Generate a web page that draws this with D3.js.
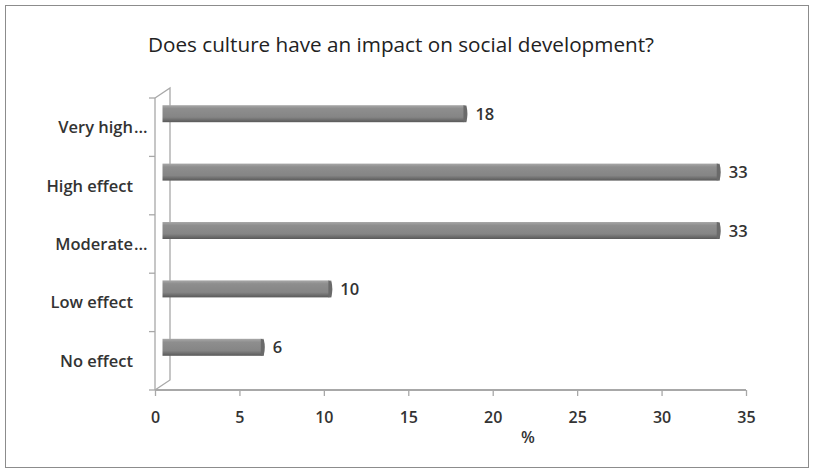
<!DOCTYPE html>
<html>
<head>
<meta charset="utf-8">
<script src="https://cdn.jsdelivr.net/npm/d3@7"></script>
<style>
  body { margin: 0; background: #fff; }
  svg { display: block; }
  text { font-family: 'Open Sans', 'DejaVu Sans', sans-serif; fill: #333; }
</style>
</head>
<body>
<svg width="814" height="473"></svg>
<script>
// chart data
var categories = ['Very high effect', 'High effect', 'Moderate effect', 'Low effect', 'No effect'];
var shortLabels = ['Very high', 'High effect', 'Moderate', 'Low effect', 'No effect'];
var values = [18, 33, 33, 10, 6];
var xTicks = [0, 5, 10, 15, 20, 25, 30, 35];
var titleText = 'Does culture have an impact on social development?';
var xAxisTitle = '%';

var svg = d3.select('svg');
var depthX = 15, depthY = 10;   // 3D wall offset

var x = d3.scaleLinear().domain([0, 35]).range([155, 746]);
var y = d3.scaleBand().domain(categories).range([98, 390]).padding(0);

// outer frame
svg.append('rect')
    .attr('x', 5.5).attr('y', 5.5)
    .attr('width', 803).attr('height', 462)
    .attr('fill', 'none')
    .attr('stroke', '#8c8c8c')
    .attr('stroke-width', 1);

// title
svg.append('text')
    .attr('x', 401).attr('y', 52)
    .attr('text-anchor', 'middle')
    .attr('textLength', 506)
    .attr('lengthAdjust', 'spacingAndGlyphs')
    .style('font-size', '20px')
    .style('fill', '#222')
    .text(titleText);

var defs = svg.append('defs');
var grad = defs.append('linearGradient')
    .attr('id', 'barGrad')
    .attr('x1', 0).attr('y1', 0).attr('x2', 0).attr('y2', 1);
grad.append('stop').attr('offset', '0%').attr('stop-color', '#a8a8a8');
grad.append('stop').attr('offset', '20%').attr('stop-color', '#8e8e8e');
grad.append('stop').attr('offset', '70%').attr('stop-color', '#858585');
grad.append('stop').attr('offset', '100%').attr('stop-color', '#595959');

var axisColor = '#a8a8a8';
var x0 = x(0), yTop = y.range()[0], yBottom = y.range()[1];

// back wall and floor edges
svg.append('path')
    .attr('d', 'M' + x0 + ',' + yTop + ' L' + (x0 + depthX) + ',' + (yTop - depthY) +
        ' L' + (x0 + depthX) + ',' + (yBottom - depthY) + ' L' + x0 + ',' + yBottom)
    .attr('fill', 'none')
    .attr('stroke', axisColor)
    .attr('stroke-width', 1.3);

// left axis
svg.append('line')
    .attr('x1', x0).attr('x2', x0)
    .attr('y1', yTop).attr('y2', yBottom)
    .attr('stroke', axisColor).attr('stroke-width', 1.3);

var yTickPos = categories.map(function (c) { return y(c); }).concat([yBottom]);
svg.selectAll('.ytick')
    .data(yTickPos)
    .enter()
    .append('line')
    .attr('x1', x0 - 6).attr('x2', x0)
    .attr('y1', function (d) { return d; })
    .attr('y2', function (d) { return d; })
    .attr('stroke', axisColor).attr('stroke-width', 1.3);

// bottom axis
var xAxis = d3.axisBottom(x).tickValues(xTicks).tickSize(6).tickPadding(16);
var gx = svg.append('g')
    .attr('transform', 'translate(0,' + yBottom + ')')
    .call(xAxis);
gx.select('.domain').attr('stroke', axisColor).attr('stroke-width', 2)
    .attr('d', 'M' + x0 + ',0H' + x(35));
gx.selectAll('.tick line').attr('stroke', axisColor).attr('stroke-width', 1.3);
gx.selectAll('.tick text')
    .style('font-size', '16px')
    .style('font-weight', '600')
    .style('fill', '#333');

svg.append('text')
    .attr('x', 528).attr('y', 443)
    .attr('text-anchor', 'middle')
    .style('font-size', '16px')
    .style('font-weight', '600')
    .text(xAxisTitle);

// category labels
var labels = svg.selectAll('.catLabel')
    .data(categories)
    .enter()
    .append('g')
    .attr('class', 'catLabel');

labels.append('text')
    .attr('x', 133)
    .attr('y', function (d) { return y(d) + y.bandwidth() / 2 + 6; })
    .attr('text-anchor', 'end')
    .style('font-size', '16.5px')
    .style('font-weight', '600')
    .text(function (d, i) { return shortLabels[i]; });

labels.filter(function (d, i) { return shortLabels[i] !== d; })
    .append('text')
    .attr('x', 134)
    .attr('y', function (d) { return y(d) + y.bandwidth() / 2 + 6; })
    .style('font-size', '16.5px')
    .style('font-weight', '600')
    .text('...');

// bars
var barH = 17;
var shift = depthX / 2;
function barTop(d) { return y(d) + y.bandwidth() / 2 - 22; }

svg.selectAll('.bar')
    .data(categories)
    .enter()
    .append('rect')
    .attr('class', 'bar')
    .attr('x', x0 + shift)
    .attr('y', function (d) { return barTop(d); })
    .attr('width', function (d, i) { return x(values[i]) - x0; })
    .attr('height', barH)
    .attr('fill', 'url(#barGrad)');

// rounded end caps
svg.selectAll('.cap')
    .data(categories)
    .enter()
    .append('path')
    .attr('class', 'cap')
    .attr('d', function (d, i) {
        var xe = x(values[i]) + shift, t = barTop(d);
        return 'M' + (xe - 3) + ',' + t + ' L' + xe + ',' + (t + 1) +
            ' Q' + (xe + 2) + ',' + (t + barH / 2) + ' ' + xe + ',' + (t + barH - 1) +
            ' L' + (xe - 3) + ',' + (t + barH) + ' Z';
    })
    .attr('fill', '#6a6a6a');

// value labels
svg.selectAll('.valLabel')
    .data(categories)
    .enter()
    .append('text')
    .attr('class', 'valLabel')
    .attr('x', function (d, i) { return x(values[i]) + shift + 9; })
    .attr('y', function (d) { return barTop(d) + barH / 2 + 6; })
    .style('font-size', '16.5px')
    .style('font-weight', '600')
    .text(function (d, i) { return values[i]; });
</script>
</body>
</html>
